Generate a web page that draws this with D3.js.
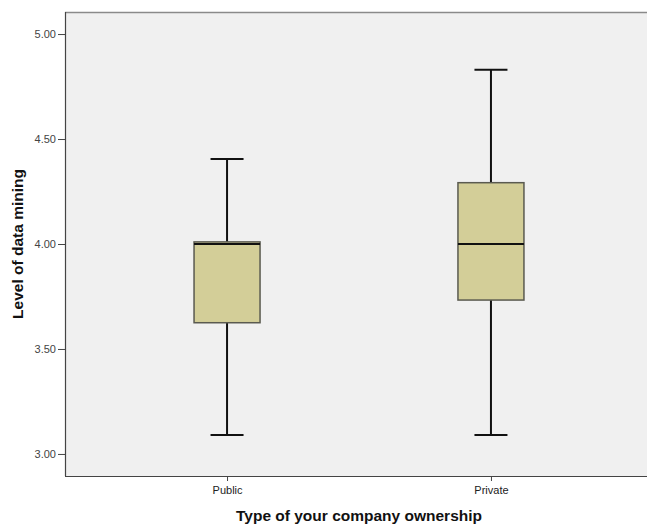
<!DOCTYPE html>
<html><head><meta charset="utf-8">
<script src="https://cdn.jsdelivr.net/npm/d3@7"></script>
<style>body{margin:0;background:#fff;}svg{display:block;}</style>
</head><body>
<svg id="c" width="647" height="526"></svg>
<script>
const categories = ["Public", "Private"];
const whiskerLow = [3.09, 3.09];
const q1 = [3.625, 3.733];
const median = [4.00, 4.00];
const q3 = [4.01, 4.292];
const whiskerHigh = [4.405, 4.83];
const yTicks = [3.00, 3.50, 4.00, 4.50, 5.00];
const xTitle = "Type of your company ownership";
const yTitle = "Level of data mining";

const svg = d3.select("#c");
const L = 65, R = 653, T = 12, B = 476;
const y = d3.scaleLinear().domain([2.895, 5.105]).range([B, T]);
const x = d3.scalePoint().domain(categories).range([L, R]).padding(0.614);

svg.append("rect").attr("x", L).attr("y", T).attr("width", R - L).attr("height", B - T).attr("fill", "#f0f0f0");
svg.append("line").attr("x1", L).attr("x2", R).attr("y1", T + 0.5).attr("y2", T + 0.5).attr("stroke", "#8a8a8a").attr("stroke-width", 1.5);

const yAxis = d3.axisLeft(y).tickValues(yTicks).tickFormat(d3.format(".2f")).tickSize(7).tickPadding(2);
const gy = svg.append("g").attr("transform", `translate(${L},0)`).call(yAxis);
gy.select(".domain").attr("stroke", "#444").attr("stroke-width", 1.2).attr("d", `M0.5,${T}V${B}`);
gy.selectAll(".tick line").attr("stroke", "#444");
gy.selectAll(".tick text").attr("font-family", "Arial, 'Liberation Sans', sans-serif").attr("font-size", 11).attr("fill", "#444");

const xAxis = d3.axisBottom(x).tickSize(5).tickPadding(5);
const gx = svg.append("g").attr("transform", `translate(0,${B})`).call(xAxis);
gx.select(".domain").attr("stroke", "#444").attr("stroke-width", 1.2).attr("d", `M${L},0.5H${R}`);
gx.selectAll(".tick line").attr("stroke", "#444");
gx.selectAll(".tick text").attr("font-family", "Arial, 'Liberation Sans', sans-serif").attr("font-size", 11).attr("fill", "#222");

const boxW = 66, capW = 33;
const data = categories.map((c, i) => ({c, lo: whiskerLow[i], q1: q1[i], med: median[i], q3: q3[i], hi: whiskerHigh[i]}));
const g = svg.append("g").selectAll("g").data(data).join("g");
g.append("line").attr("x1", d => x(d.c)).attr("x2", d => x(d.c)).attr("y1", d => y(d.hi)).attr("y2", d => y(d.q3)).attr("stroke", "#111").attr("stroke-width", 2);
g.append("line").attr("x1", d => x(d.c)).attr("x2", d => x(d.c)).attr("y1", d => y(d.q1)).attr("y2", d => y(d.lo)).attr("stroke", "#111").attr("stroke-width", 2);
g.append("line").attr("x1", d => x(d.c) - capW / 2).attr("x2", d => x(d.c) + capW / 2).attr("y1", d => y(d.hi)).attr("y2", d => y(d.hi)).attr("stroke", "#111").attr("stroke-width", 2);
g.append("line").attr("x1", d => x(d.c) - capW / 2).attr("x2", d => x(d.c) + capW / 2).attr("y1", d => y(d.lo)).attr("y2", d => y(d.lo)).attr("stroke", "#111").attr("stroke-width", 2);
g.append("rect").attr("x", d => x(d.c) - boxW / 2).attr("width", boxW)
  .attr("y", d => y(d.q3)).attr("height", d => y(d.q1) - y(d.q3))
  .attr("fill", "#d3ce98").attr("stroke", "#5a5a50").attr("stroke-width", 1.5);
g.append("line").attr("x1", d => x(d.c) - boxW / 2).attr("x2", d => x(d.c) + boxW / 2).attr("y1", d => y(d.med)).attr("y2", d => y(d.med)).attr("stroke", "#111").attr("stroke-width", 2);

svg.append("text").attr("x", 359).attr("y", 521).attr("text-anchor", "middle")
  .attr("font-family", "Arial, 'Liberation Sans', sans-serif").attr("font-weight", "bold").attr("font-size", 15.5).attr("fill", "#111").text(xTitle);
svg.append("text").attr("transform", `translate(23,${(T + B) / 2}) rotate(-90)`).attr("text-anchor", "middle")
  .attr("font-family", "Arial, 'Liberation Sans', sans-serif").attr("font-weight", "bold").attr("font-size", 15.5).attr("fill", "#111").text(yTitle);
</script>
</body></html>
